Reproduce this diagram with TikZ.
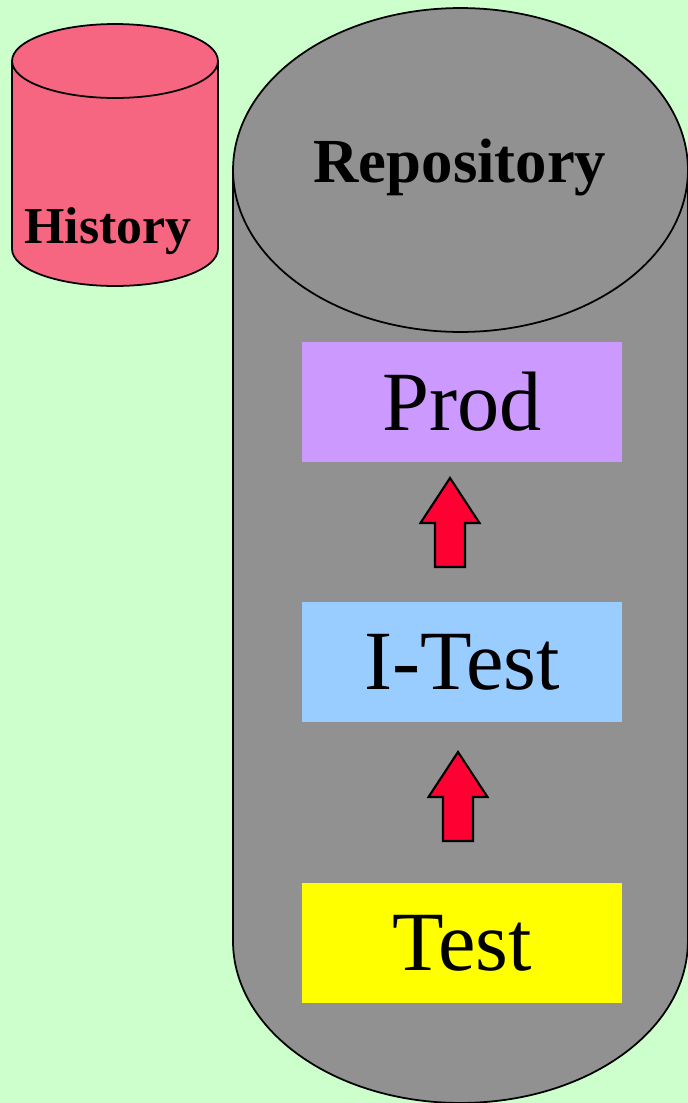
\documentclass[tikz,border=0pt]{standalone}
\usepackage{fontspec}
\setmainfont{Liberation Serif}
\usetikzlibrary{positioning}
\definecolor{bgGreen}{RGB}{204,255,204}
\definecolor{repoGray}{RGB}{145,145,145}
\definecolor{histPink}{RGB}{246,102,128}
\definecolor{prodLilac}{RGB}{204,153,255}
\definecolor{itestBlue}{RGB}{153,204,255}
\definecolor{testYellow}{RGB}{255,255,0}
\definecolor{arrowRed}{RGB}{255,0,51}
\tikzstyle{stage} = [rectangle, minimum width=6.4cm, minimum height=2.4cm, inner sep=0pt, font=\fontsize{48}{58}\selectfont]
\tikzstyle{dbtext} = [anchor=base, inner sep=0pt]
\tikzstyle{dbline} = [draw=black, line width=1pt]
\tikzstyle{promote} = [draw=black, line width=1.2pt, fill=arrowRed, line join=miter]
\newcommand{\promotearrow}[2]{% tip at (#1,#2)
  \draw[promote] (#1,#2) -- ++(29.5,45) -- ++(-14.5,0) -- ++(0,44) -- ++(-30,0) -- ++(0,-44) -- ++(-14.5,0) -- cycle;}

\begin{document}
\begin{tikzpicture}[x=0.02cm, y=-0.02cm]

\fill[bgGreen] (0,0) rectangle (688,1103);
\useasboundingbox (0,0) rectangle (688,1103);

% history cylinder
\path[dbline, fill=histPink] (12,61) -- (12,249) arc[start angle=180, end angle=360, x radius=2.06cm, y radius=0.74cm] -- (218,61) -- cycle;
\draw[dbline, fill=histPink] (115,61) ellipse [x radius=2.06cm, y radius=0.74cm];
\node(Hist)[dbtext, font=\bfseries\fontsize{29.5}{35}\selectfont] at (108,243) {History};

% repository cylinder
\path[dbline, fill=repoGray] (233,170) -- (233,941) arc[start angle=180, end angle=360, x radius=4.55cm, y radius=3.24cm] -- (688,170) -- cycle;
\draw[dbline, fill=repoGray] (460.5,170) ellipse [x radius=4.55cm, y radius=3.24cm];
\node(Repo)[dbtext, font=\bfseries\fontsize{35.7}{42}\selectfont] at (460,182) {Repository};

\node(Test)[stage, fill=testYellow] at (462,943) {Test};
\node(ITest)[stage, fill=itestBlue, above = 3.2cm of Test] {I-Test};
\node(Prod)[stage, fill=prodLilac, above = 2.8cm of ITest] {Prod};

\promotearrow{450}{478}
\promotearrow{458}{752}

\end{tikzpicture}
\end{document}
